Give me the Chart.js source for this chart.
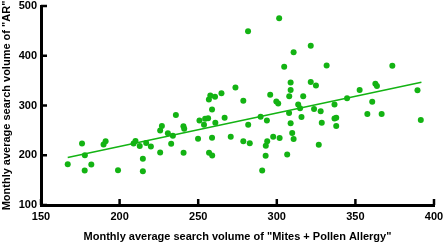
<!DOCTYPE html>
<html><head><meta charset="utf-8">
<script src="https://cdn.jsdelivr.net/npm/chart.js@4/dist/chart.umd.min.js"></script>
<style>html,body{margin:0;padding:0;background:#fff}#wrap{width:447px;height:244px}</style>
</head><body><div id="wrap"><canvas id="c" width="447" height="244"></canvas></div>
<script>
const mitesPollen = [167.0,176.1,177.9,177.8,182.0,189.8,191.1,199.0,208.9,210.1,212.8,214.8,214.8,216.9,219.9,225.8,225.8,226.9,230.7,232.8,233.9,235.8,240.6,241.1,240.7,249.9,250.8,254.4,256.3,253.7,256.9,258.9,258.8,258.8,256.8,257.7,260.7,264.8,260.9,266.8,270.7,273.7,278.7,278.7,281.8,282.8,281.7,289.7,293.7,295.8,299.7,300.9,297.7,301.8,293.9,293.0,292.9,290.7,301.5,304.7,306.6,307.8,308.8,308.8,307.9,308.8,309.8,310.7,310.7,313.6,321.6,331.7,373.5,321.6,324.9,316.8,314.8,315.7,323.7,327.9,328.6,326.7,336.7,336.7,337.8,337.8,344.7,352.7,360.7,357.6,366.7,362.7,363.7,389.5,391.6];
const arVolume = [182,223.4,200,169.4,181.4,221.4,228,170,223.4,228.8,218.4,192.8,168,224.4,217.4,205.4,250,258.8,244,223,239.4,280.8,258.4,253.4,204.8,233.4,270,273.4,274.4,261.4,204.8,199.4,235.4,291.8,312,320,317.4,324.8,265.4,275.4,237,336,309.4,228,261.4,224,449,277.4,270,321.4,307.8,303.8,237.4,234.8,228,219,198.8,169.4,475.4,377.8,201.4,285,346.4,331,318.8,264.4,244.8,232.8,406.8,301.8,420,380.2,380,347.4,340.2,318.8,294.4,277,293,288.4,265.4,221,302,274,275.4,258.8,314.8,331.4,307.4,282.8,282.8,343.8,339.4,330.8,270.8];
const fitX = [167, 392];
const fitY = [195.4, 346.8];
const xTicks = [150,200,250,300,350,400];
const yTicks = [100,200,300,400,500];

const GREEN = '#13b313';
const font = {family:'"Liberation Sans", Arial, sans-serif', weight:'bold', size:11};

const innerTicks = {
  id:'innerTicks',
  afterDraw(chart){
    const ctx = chart.ctx, a = chart.chartArea;
    const xs = chart.scales.x, ys = chart.scales.y;
    ctx.save();
    ctx.strokeStyle = '#000'; ctx.lineWidth = 2.5;
    xTicks.forEach(v=>{const px=xs.getPixelForValue(v); ctx.beginPath(); ctx.moveTo(px,a.bottom); ctx.lineTo(px,a.bottom-6); ctx.stroke();});
    yTicks.forEach(v=>{const py=ys.getPixelForValue(v); ctx.beginPath(); ctx.moveTo(a.left,py); ctx.lineTo(a.left+6,py); ctx.stroke();});
    ctx.restore();
  }
};

new Chart(document.getElementById('c'), {
  type:'scatter',
  data:{datasets:[
    {data: mitesPollen.map((x,i)=>({x, y: arVolume[i]})), backgroundColor:GREEN, borderColor:GREEN, pointRadius:3, pointHoverRadius:3, borderWidth:0, order:2},
    {type:'line', data: fitX.map((x,i)=>({x, y: fitY[i]})), borderColor:GREEN, borderWidth:1.5, pointRadius:0, fill:false, order:1}
  ]},
  options:{
    responsive:false, animation:false, devicePixelRatio:1,
    layout:{padding:{top:6, right:13, left:0, bottom:0}},
    plugins:{legend:{display:false}, tooltip:{enabled:false}},
    scales:{
      x:{type:'linear', min:150, max:400,
        afterBuildTicks(s){ s.ticks = xTicks.map(v=>({value:v})); },
        afterFit(s){ s.height = 39; s.paddingLeft = 0; s.paddingRight = 0; },
        border:{color:'#000', width:3},
        grid:{display:true, drawOnChartArea:false, drawTicks:false, color:'rgba(0,0,0,0)'},
        ticks:{color:'#000', font, padding:5, maxRotation:0},
        title:{display:true, text:'Monthly average search volume of "Mites + Pollen Allergy"', color:'#000', font, padding:{top:3,bottom:0}}
      },
      y:{type:'linear', min:100, max:500,
        afterBuildTicks(s){ s.ticks = yTicks.map(v=>({value:v})); },
        afterFit(s){ s.width = 41; s.paddingTop = 0; s.paddingBottom = 0; },
        border:{color:'#000', width:3},
        grid:{display:true, drawOnChartArea:false, drawTicks:false, color:'rgba(0,0,0,0)'},
        ticks:{color:'#000', font, padding:4},
        title:{display:true, text:'Monthly average search volume of "AR"', color:'#000', font, padding:{top:0,bottom:0}}
      }
    }
  },
  plugins:[innerTicks]
});
</script></body></html>
